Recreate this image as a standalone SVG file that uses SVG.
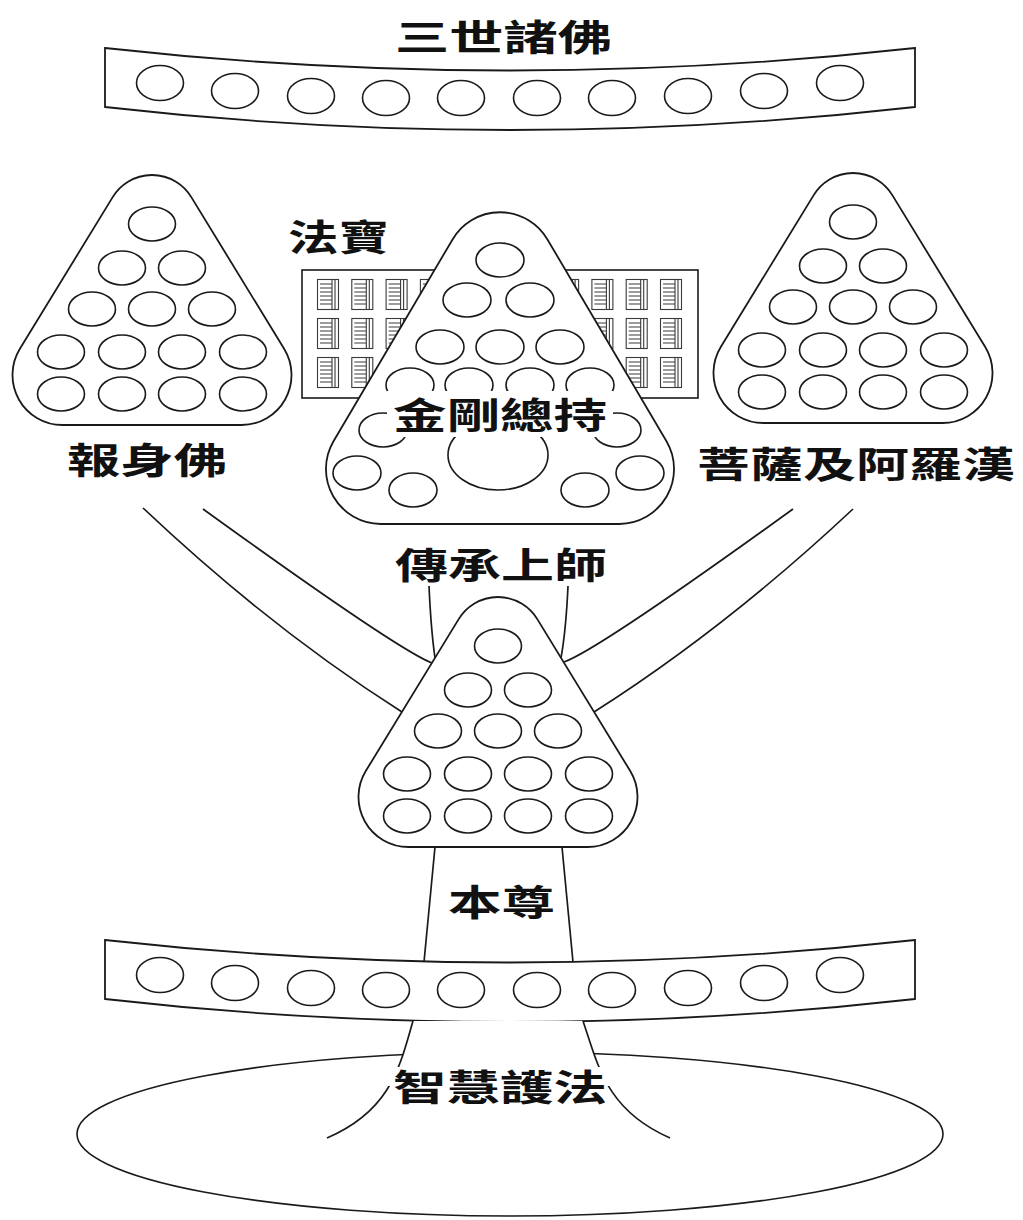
<svg xmlns="http://www.w3.org/2000/svg" xmlns:xlink="http://www.w3.org/1999/xlink" width="1023" height="1220" viewBox="0 0 1023 1220">
<style>
.o{fill:#fff;stroke:#1a1a1a;stroke-width:1.8}
.e{fill:none;stroke:#1a1a1a;stroke-width:1.6}
.c{fill:none;stroke:#1a1a1a;stroke-width:1.7}
.t{font-family:"Noto Sans CJK TC","Noto Sans CJK SC",sans-serif;font-weight:700;font-size:36px;fill:#111;dominant-baseline:central}
.bg{fill:#fff;stroke:none}
</style>
<defs>
<path id="tri" d="M-39.3,22.1 A46,46 0 0 1 39.3,22.1 L132.1,173.8 A50,50 0 0 1 89.4,250 L-89.4,250 A50,50 0 0 1 -132.1,173.8 Z" fill="#fff" stroke="#1a1a1a" stroke-width="1.8"/>
<g id="dots15" fill="none" stroke="#1a1a1a" stroke-width="1.6">
<ellipse cx="0" cy="49" rx="23.5" ry="17"/>
<ellipse cx="-30" cy="93" rx="23.5" ry="17"/><ellipse cx="30" cy="93" rx="23.5" ry="17"/>
<ellipse cx="-60" cy="134" rx="23.5" ry="17"/><ellipse cx="0" cy="134" rx="23.5" ry="17"/><ellipse cx="60" cy="134" rx="23.5" ry="17"/>
<ellipse cx="-91" cy="177" rx="23.5" ry="17"/><ellipse cx="-30" cy="177" rx="23.5" ry="17"/><ellipse cx="30" cy="177" rx="23.5" ry="17"/><ellipse cx="91" cy="177" rx="23.5" ry="17"/>
<ellipse cx="-91" cy="219" rx="23.5" ry="17"/><ellipse cx="-30" cy="219" rx="23.5" ry="17"/><ellipse cx="30" cy="219" rx="23.5" ry="17"/><ellipse cx="91" cy="219" rx="23.5" ry="17"/>
</g>
<g id="bardots" fill="none" stroke="#1a1a1a" stroke-width="1.6">
<ellipse cx="160" cy="975" rx="23.5" ry="17.5"/><ellipse cx="235" cy="983" rx="23.5" ry="17.5"/>
<ellipse cx="311" cy="988" rx="23.5" ry="17.5"/><ellipse cx="386" cy="990" rx="23.5" ry="17.5"/>
<ellipse cx="461" cy="990" rx="23.5" ry="17.5"/><ellipse cx="537" cy="990" rx="23.5" ry="17.5"/>
<ellipse cx="612" cy="990" rx="23.5" ry="17.5"/><ellipse cx="688" cy="988" rx="23.5" ry="17.5"/>
<ellipse cx="764" cy="983" rx="23.5" ry="17.5"/><ellipse cx="840" cy="975" rx="23.5" ry="17.5"/>
</g>
<path id="bar" d="M105,940 Q510,985 915,940 L915,999 Q510,1045 105,999 Z" fill="#fff" stroke="#1a1a1a" stroke-width="1.8"/>
<g id="book" fill="none" stroke="#3a3a3a" stroke-width="1.1">
<rect x="0.5" y="0.5" width="21" height="30"/>
<path d="M3,5H15M3,9H15M3,13H15M3,17H15M3,21H15M3,25H15M15,1V30M18,1V30"/>
</g>
</defs>

<g id="node-sanshi">
<use xlink:href="#bar" transform="translate(0,-892)"/>
<use xlink:href="#bardots" transform="translate(0,-892)"/>
<text class="t" x="395" y="35" textLength="217" lengthAdjust="spacingAndGlyphs">三世諸佛</text>
</g>

<g id="node-baoshen" transform="translate(152,175)">
<use xlink:href="#tri"/><use xlink:href="#dots15"/>
</g>
<text class="t" x="67" y="458" textLength="160" lengthAdjust="spacingAndGlyphs">報身佛</text>

<g id="node-pusa" transform="translate(853,173)">
<use xlink:href="#tri"/><use xlink:href="#dots15"/>
</g>
<text class="t" x="697" y="462" textLength="318" lengthAdjust="spacingAndGlyphs">菩薩及阿羅漢</text>

<g id="node-fabao">
<rect x="302" y="270" width="396" height="128" fill="#fff" stroke="#1a1a1a" stroke-width="1.6"/>
<use xlink:href="#book" x="317" y="279"/><use xlink:href="#book" x="351.3" y="279"/><use xlink:href="#book" x="385.6" y="279"/><use xlink:href="#book" x="419.9" y="279"/><use xlink:href="#book" x="454.2" y="279"/><use xlink:href="#book" x="488.5" y="279"/><use xlink:href="#book" x="522.8" y="279"/><use xlink:href="#book" x="557.1" y="279"/><use xlink:href="#book" x="591.4" y="279"/><use xlink:href="#book" x="625.7" y="279"/><use xlink:href="#book" x="660" y="279"/>
<use xlink:href="#book" x="317" y="318"/><use xlink:href="#book" x="351.3" y="318"/><use xlink:href="#book" x="385.6" y="318"/><use xlink:href="#book" x="419.9" y="318"/><use xlink:href="#book" x="454.2" y="318"/><use xlink:href="#book" x="488.5" y="318"/><use xlink:href="#book" x="522.8" y="318"/><use xlink:href="#book" x="557.1" y="318"/><use xlink:href="#book" x="591.4" y="318"/><use xlink:href="#book" x="625.7" y="318"/><use xlink:href="#book" x="660" y="318"/>
<use xlink:href="#book" x="317" y="357"/><use xlink:href="#book" x="351.3" y="357"/><use xlink:href="#book" x="385.6" y="357"/><use xlink:href="#book" x="419.9" y="357"/><use xlink:href="#book" x="454.2" y="357"/><use xlink:href="#book" x="488.5" y="357"/><use xlink:href="#book" x="522.8" y="357"/><use xlink:href="#book" x="557.1" y="357"/><use xlink:href="#book" x="591.4" y="357"/><use xlink:href="#book" x="625.7" y="357"/><use xlink:href="#book" x="660" y="357"/>
<text class="t" x="288" y="235" textLength="101" lengthAdjust="spacingAndGlyphs">法寶</text>
</g>

<g id="node-jingang">
<path class="o" transform="translate(500,212)" d="M-47.3,27.2 A55,55 0 0 1 47.3,27.2 L166.5,229.2 A55,55 0 0 1 119.2,312 L-119.2,312 A55,55 0 0 1 -166.5,229.2 Z"/>
<g class="e">
<ellipse cx="500" cy="260" rx="24" ry="17"/>
<ellipse cx="467" cy="300" rx="24" ry="17"/><ellipse cx="530" cy="300" rx="24" ry="17"/>
<ellipse cx="440" cy="347" rx="24" ry="17"/><ellipse cx="500" cy="347" rx="24" ry="17"/><ellipse cx="560" cy="347" rx="24" ry="17"/>
<ellipse cx="410" cy="385" rx="24" ry="17"/><ellipse cx="469" cy="385" rx="24" ry="17"/><ellipse cx="530" cy="385" rx="24" ry="17"/><ellipse cx="590" cy="385" rx="24" ry="17"/>
<ellipse cx="383" cy="430" rx="24" ry="17"/><ellipse cx="617" cy="430" rx="24" ry="17"/>
<ellipse cx="498" cy="455" rx="50" ry="35"/>
<ellipse cx="357" cy="473" rx="24" ry="17"/><ellipse cx="413" cy="490" rx="24" ry="17"/>
<ellipse cx="585" cy="490" rx="24" ry="17"/><ellipse cx="640" cy="473" rx="24" ry="17"/>
</g>
<rect class="bg" x="387" y="391" width="226" height="46"/>
<text class="t" x="393" y="413" textLength="214" lengthAdjust="spacingAndGlyphs">金剛總持</text>
</g>

<g id="connectors" class="c">
<path d="M143,508 Q270,628 402,712"/>
<path d="M203,509 Q398,650 432,663"/>
<path d="M853,509 Q726,628 594,712"/>
<path d="M793,509 Q598,650 564,662"/>
<path d="M429,586 Q431,630 435,658"/>
<path d="M568,586 Q566,630 561,658"/>
<path d="M435,847 L424,962"/>
<path d="M562,847 L573,962"/>
</g>

<text class="t" x="395" y="563" textLength="212" lengthAdjust="spacingAndGlyphs">傳承上師</text>

<g id="node-benzun" transform="translate(498,597)">
<use xlink:href="#tri"/><use xlink:href="#dots15"/>
</g>
<text class="t" x="448" y="900" font-size="37" textLength="107" lengthAdjust="spacingAndGlyphs">本尊</text>

<g id="node-bar2">
<use xlink:href="#bar"/>
<use xlink:href="#bardots"/>
</g>

<g id="node-hufa">
<ellipse class="e" cx="510" cy="1134" rx="433" ry="82"/>
<path class="bg" d="M413,1021 C400,1065 392,1110 327,1138 L670,1138 C606,1110 598,1065 583,1021 Z"/>
<path class="c" d="M413,1021 C400,1065 392,1110 327,1138"/>
<path class="c" d="M583,1021 C598,1065 606,1110 670,1138"/>
<rect class="bg" x="386" y="1067" width="228" height="19"/>
<text class="t" x="393" y="1085" textLength="214" lengthAdjust="spacingAndGlyphs">智慧護法</text>
</g>
</svg>
